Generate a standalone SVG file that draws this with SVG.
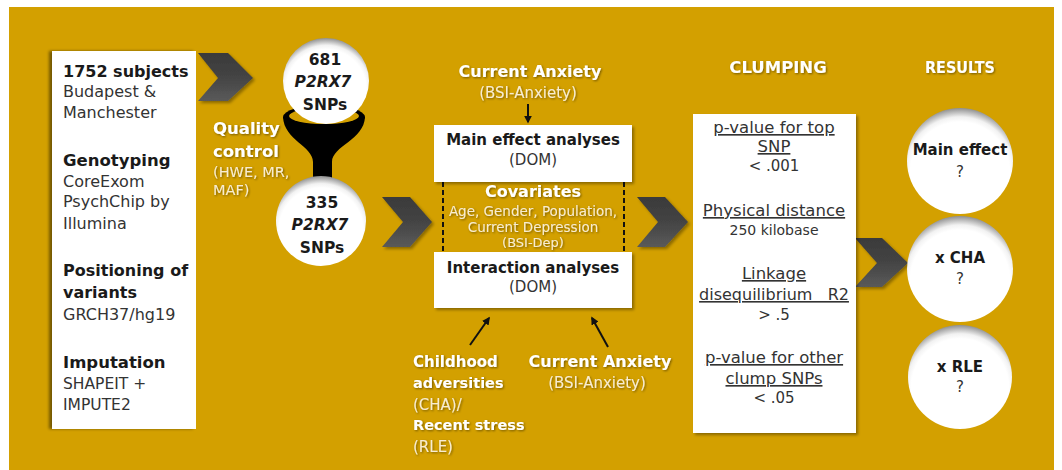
<svg xmlns="http://www.w3.org/2000/svg" width="1062" height="470" viewBox="0 0 1062 470">
  <style>
    text { font-family: "DejaVu Sans", "Liberation Sans", sans-serif; }
    .hd { font-weight: bold; fill: #1a1a1a; }
    .rg { fill: #333333; }
    .wh { font-weight: bold; fill: #ffffff; filter: url(#ts); }
    .wl { fill: #f7ecd2; filter: url(#ts); }
    .ctr { text-anchor: middle; }
    .ul { text-decoration: underline; }
    .chev { fill: url(#chevGrad); filter: url(#ds); }
    .box { fill: #ffffff; filter: url(#bs); }
    .circ { fill: url(#circGrad); }
    .dash { stroke: #111; stroke-width: 2; stroke-dasharray: 5 3; fill: none; }
    .arr { stroke: #111; stroke-width: 2; fill: none; marker-end: url(#ah); }
  </style>
  <defs>
    <linearGradient id="chevGrad" x1="0" y1="0" x2="0" y2="1">
      <stop offset="0" stop-color="#3a3a3a"/>
      <stop offset="0.5" stop-color="#444444"/>
      <stop offset="1" stop-color="#5a5a5a"/>
    </linearGradient>
    <radialGradient id="circGrad" cx="0.5" cy="0.6" r="0.6">
      <stop offset="0.78" stop-color="#ffffff"/>
      <stop offset="0.86" stop-color="#f2f2f2"/>
      <stop offset="1" stop-color="#8f8f8f"/>
    </radialGradient>
    <filter id="ds" x="-20%" y="-20%" width="150%" height="150%">
      <feDropShadow dx="2" dy="2" stdDeviation="1.5" flood-color="#000" flood-opacity="0.35"/>
    </filter>
    <filter id="bs" x="-10%" y="-10%" width="120%" height="120%">
      <feDropShadow dx="2" dy="2" stdDeviation="1.5" flood-color="#000" flood-opacity="0.35"/>
    </filter>
    <filter id="lbs" x="-10%" y="-10%" width="120%" height="120%">
      <feDropShadow dx="-3" dy="0" stdDeviation="1.5" flood-color="#000" flood-opacity="0.45"/>
    </filter>
    <filter id="ts" x="-10%" y="-30%" width="120%" height="160%">
      <feDropShadow dx="1" dy="1" stdDeviation="0.8" flood-color="#000" flood-opacity="0.45"/>
    </filter>
    <marker id="ah" viewBox="0 0 10 10" refX="8" refY="5" markerWidth="4" markerHeight="4" orient="auto">
      <path d="M0,0 L10,5 L0,10 Z" fill="#111"/>
    </marker>
  </defs>

  <rect x="0" y="0" width="1062" height="470" fill="#ffffff"/>
  <rect id="background" x="9" y="7" width="1045" height="463" fill="#D3A000"/>

  <g id="connectors">
    <polygon class="chev" points="198,53 228,53 253,78 228,101 198,101 218,78"/>
    <polygon class="chev" points="382,197 410,197 432,222 410,247 382,247 403,222"/>
    <polygon class="chev" points="637,197 665,197 688,222 665,247 637,247 658,222"/>
    <polygon class="chev" points="855,238 882,238 908,263 882,287 855,287 877,263"/>
    <line class="arr" x1="528" y1="104" x2="528" y2="122"/>
    <line class="arr" x1="470" y1="345" x2="489" y2="318"/>
    <line class="arr" x1="608" y1="347" x2="592" y2="318"/>
    <line class="dash" x1="443" y1="182" x2="443" y2="252"/>
    <line class="dash" x1="624" y1="182" x2="624" y2="252"/>
  </g>

  <g id="funnel">
    <path d="M283,117 C284,140 313,146 313,162 L313,182 L332,182 L332,162 C332,146 364,140 365,117 Z" fill="#000"/>
    <ellipse cx="324" cy="117" rx="41" ry="12" fill="#000"/>
    <ellipse cx="324" cy="116" rx="35" ry="8" fill="#D3A000"/>
  </g>

  <g id="input-box">
    <rect x="52" y="51" width="144" height="378" fill="#fff" filter="url(#lbs)"/>
    <text x="63" y="77" class="hd" font-size="16">1752 subjects</text>
    <text x="63" y="97" class="rg" font-size="16">Budapest &amp;</text>
    <text x="63" y="118" class="rg" font-size="16">Manchester</text>
    <text x="63" y="166" class="hd" font-size="16.5">Genotyping</text>
    <text x="63" y="187" class="rg" font-size="16">CoreExom</text>
    <text x="63" y="207" class="rg" font-size="16">PsychChip by</text>
    <text x="63" y="229" class="rg" font-size="16">Illumina</text>
    <text x="63" y="276" class="hd" font-size="16">Positioning of</text>
    <text x="63" y="298" class="hd" font-size="16">variants</text>
    <text x="63" y="320" class="rg" font-size="16">GRCH37/hg19</text>
    <text x="63" y="368" class="hd" font-size="16.5">Imputation</text>
    <text x="63" y="389" class="rg" font-size="15.5">SHAPEIT  +</text>
    <text x="63" y="410" class="rg" font-size="15.5">IMPUTE2</text>
  </g>

  <g id="snps-681">
    <circle cx="326" cy="81" r="43" class="circ"/>
    <text x="325" y="65" class="hd ctr" font-size="15.5">681</text>
    <text x="323" y="87" class="hd ctr" font-size="15.5" font-style="italic">P2RX7</text>
    <text x="325" y="110" class="hd ctr" font-size="15.5">SNPs</text>
  </g>

  <g id="quality-control">
    <text x="213" y="134" class="wh" font-size="16.5">Quality</text>
    <text x="213" y="157" class="wh" font-size="16.5">control</text>
    <text x="213" y="177" class="wl" font-size="14.5">(HWE, MR,</text>
    <text x="213" y="195" class="wl" font-size="14.5">MAF)</text>
  </g>

  <g id="snps-335">
    <circle cx="321" cy="221" r="45" class="circ"/>
    <text x="322" y="208" class="hd ctr" font-size="15.5">335</text>
    <text x="320" y="230" class="hd ctr" font-size="15.5" font-style="italic">P2RX7</text>
    <text x="322" y="253" class="hd ctr" font-size="15.5">SNPs</text>
  </g>

  <g id="current-anxiety-top">
    <text x="530" y="77" class="wh ctr" font-size="16">Current Anxiety</text>
    <text x="528" y="98" class="wl ctr" font-size="15">(BSI-Anxiety)</text>
  </g>

  <g id="main-effect-analyses">
    <rect x="434" y="125" width="198" height="57" class="box"/>
    <text x="533" y="145" class="hd ctr" font-size="15">Main effect analyses</text>
    <text x="533" y="165" class="rg ctr" font-size="15">(DOM)</text>
  </g>

  <g id="covariates">
    <text x="533" y="197" class="wh ctr" font-size="16">Covariates</text>
    <text x="533" y="216" class="wl ctr" font-size="13.5">Age, Gender, Population,</text>
    <text x="533" y="232" class="wl ctr" font-size="13.5">Current Depression</text>
    <text x="533" y="247" class="wl ctr" font-size="13">(BSI-Dep)</text>
  </g>

  <g id="interaction-analyses">
    <rect x="434" y="252" width="198" height="56" class="box"/>
    <text x="533" y="273" class="hd ctr" font-size="15">Interaction analyses</text>
    <text x="533" y="292" class="rg ctr" font-size="15">(DOM)</text>
  </g>

  <g id="moderators">
    <text x="413" y="367" class="wh" font-size="15">Childhood</text>
    <text x="413" y="388" class="wh" font-size="14.5">adversities</text>
    <text x="413" y="410" class="wl" font-size="15">(CHA)/</text>
    <text x="413" y="430" class="wh" font-size="14.5">Recent stress</text>
    <text x="413" y="452" class="wl" font-size="15">(RLE)</text>
  </g>

  <g id="current-anxiety-bottom">
    <text x="600" y="367" class="wh ctr" font-size="16">Current Anxiety</text>
    <text x="597" y="388" class="wl ctr" font-size="15">(BSI-Anxiety)</text>
  </g>

  <g id="clumping">
    <text x="778" y="73" class="wh ctr" font-size="16.5">CLUMPING</text>
    <rect x="693" y="114" width="163" height="319" class="box"/>
    <text x="774" y="133" class="rg ctr ul" font-size="16.5">p-value for top</text>
    <text x="774" y="152" class="rg ctr ul" font-size="16.5">SNP</text>
    <text x="774" y="171" class="rg ctr" font-size="15">&lt; .001</text>
    <text x="774" y="216" class="rg ctr ul" font-size="16.5">Physical distance</text>
    <text x="774" y="235" class="rg ctr" font-size="14">250 kilobase</text>
    <text x="774" y="279" class="rg ctr ul" font-size="16.5">Linkage</text>
    <text x="774" y="300" class="rg ctr ul" font-size="16" xml:space="preserve">disequilibrium   R2</text>
    <text x="774" y="320" class="rg ctr" font-size="15">&gt; .5</text>
    <text x="774" y="363" class="rg ctr ul" font-size="16.5">p-value for other</text>
    <text x="774" y="384" class="rg ctr ul" font-size="16.5">clump SNPs</text>
    <text x="774" y="403" class="rg ctr" font-size="15">&lt; .05</text>
  </g>

  <g id="results">
    <text x="960" y="73" class="wh ctr" font-size="16.5" textLength="70" lengthAdjust="spacingAndGlyphs">RESULTS</text>
  </g>

  <g id="result-main-effect">
    <circle cx="960" cy="161" r="53" class="circ"/>
    <text x="960" y="155" class="hd ctr" font-size="15">Main effect</text>
    <text x="960" y="177" class="rg ctr" font-size="15">?</text>
  </g>

  <g id="result-cha">
    <circle cx="960" cy="269" r="53" class="circ"/>
    <text x="960" y="263" class="hd ctr" font-size="15">x CHA</text>
    <text x="960" y="284" class="rg ctr" font-size="15">?</text>
  </g>

  <g id="result-rle">
    <circle cx="960" cy="377" r="52" class="circ"/>
    <text x="960" y="372" class="hd ctr" font-size="15">x RLE</text>
    <text x="960" y="392" class="rg ctr" font-size="15">?</text>
  </g>
</svg>
